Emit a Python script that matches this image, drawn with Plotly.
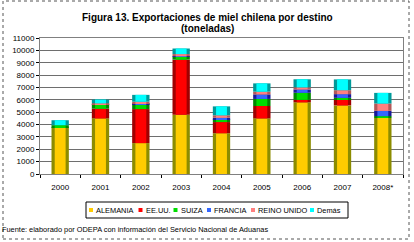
import plotly.graph_objects as go

years = ["2000", "2001", "2002", "2003", "2004", "2005", "2006", "2007", "2008*"]
alemania = [3800, 4500, 2500, 4800, 3300, 4500, 5800, 5550, 4550]
eeuu = [0, 780, 2750, 4450, 900, 1000, 200, 480, 0]
suiza = [150, 320, 400, 250, 220, 570, 570, 130, 130]
francia = [0, 40, 50, 30, 130, 370, 270, 300, 430]
reino_unido = [0, 80, 150, 170, 200, 220, 170, 320, 590]
demas = [400, 300, 550, 450, 720, 670, 650, 870, 860]

names = ["ALEMANIA", "EE.UU.", "SUIZA", "FRANCIA", "REINO UNIDO", "Demás"]
values = [alemania, eeuu, suiza, francia, reino_unido, demas]
colors = ["#FFCC00", "#FF0000", "#00DD00", "#3366FF", "#FF8080", "#00FFFF"]
edges = ["#8C8C00", "#A00000", "#008800", "#1A1A99", "#B35959", "#009999"]

W, H = 414, 242
L, R, T, B = 40, 11, 38, 68


def px(x):
    return (x - L) / (W - L - R)


def py(y):
    return (H - B - y) / (H - T - B)


fig = go.Figure()
base = [0] * len(years)
for name, vals, col, edge in zip(names, values, colors, edges):
    # darker outer body, brighter centre -> cylinder look
    fig.add_trace(go.Bar(x=years, y=vals, base=base, width=0.43, name=name,
                         marker=dict(color=edge, line=dict(width=0)), showlegend=False))
    fig.add_trace(go.Bar(x=years, y=vals, base=base, width=0.27, name=name,
                         marker=dict(color=col, line=dict(width=0)), showlegend=False))
    base = [b + v for b, v in zip(base, vals)]

fig.update_layout(
    barmode="overlay",
    width=W, height=H,
    margin=dict(l=L, r=R, t=T, b=B, autoexpand=False),
    paper_bgcolor="white", plot_bgcolor="white",
    font=dict(family="Liberation Sans, Arial", size=8, color="black"),
    showlegend=False,
    xaxis=dict(showline=True, linecolor="#808080", mirror=True, ticks="outside",
               tickson="boundaries", ticklen=3, tickcolor="black", tickfont=dict(size=8),
               ticklabelstandoff=5),
    yaxis=dict(range=[0, 11000], dtick=1000, tickformat="d", showgrid=True,
               gridcolor="#6E6E6E", gridwidth=1,
               showline=True, linecolor="#808080", mirror=True, ticks="outside", ticklen=3,
               tickcolor="black", tickfont=dict(size=8)),
)

# title as two centred lines
fig.add_annotation(text="<b>Figura 13. Exportaciones de miel chilena por destino</b>",
                   xref="paper", yref="paper", x=px(207), y=py(17), xanchor="center", yanchor="middle",
                   showarrow=False, font=dict(size=10))
fig.add_annotation(text="<b>(toneladas)</b>",
                   xref="paper", yref="paper", x=px(207), y=py(28), xanchor="center", yanchor="middle",
                   showarrow=False, font=dict(size=10))

# legend drawn by hand to match the compact single-row box
fig.add_shape(type="rect", xref="paper", yref="paper", x0=px(86), x1=px(348), y0=py(218), y1=py(202),
              line=dict(color="black", width=1))
leg_x = [91, 140.5, 175.5, 209, 253, 312]
for name, col, x in zip(names, colors, leg_x):
    fig.add_shape(type="rect", xref="paper", yref="paper", x0=px(x - 2), x1=px(x + 2),
                  y0=py(212), y1=py(208), fillcolor=col, line=dict(width=0))
    fig.add_annotation(text=name, xref="paper", yref="paper", x=px(x + 3), y=py(210),
                       xanchor="left", yanchor="middle", showarrow=False, font=dict(size=7.4))

fig.add_annotation(text="Fuente: elaborado por ODEPA con información del Servicio Nacional de Aduanas",
                   xref="paper", yref="paper", x=px(0), y=py(229), xanchor="left", yanchor="middle",
                   showarrow=False, font=dict(size=7.4))

fig.add_shape(type="rect", xref="paper", yref="paper", x0=px(3), x1=px(409), y0=py(239), y1=py(1),
              line=dict(color="#555555", width=1, dash="dot"))

fig.write_html("out.html", post_script="document.body.style.margin='0';",
               config={"displayModeBar": False})
